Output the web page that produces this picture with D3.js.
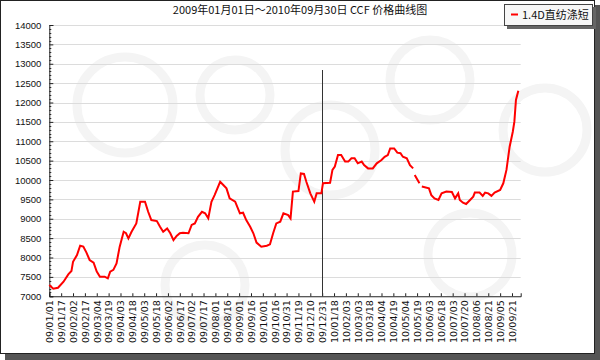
<!DOCTYPE html>
<html>
<head>
<meta charset="utf-8">
<script src="https://cdn.jsdelivr.net/npm/d3@7/dist/d3.min.js"></script>
<style>
  body { margin: 0; background: #fff; }
  svg { display: block; }
</style>
</head>
<body>
<div id="chart"></div>
<script>
// --- Data ---
const title = "2009年01月01日～2010年09月30日 CCF 价格曲线图";
const seriesName = "1.4D直纺涤短";

// tick labels, one every 15 data points
const dateLabels = [
  "09/01/01", "09/01/17", "09/02/02", "09/02/17", "09/03/04", "09/03/19", "09/04/03", "09/04/18",
  "09/05/03", "09/05/18", "09/06/02", "09/06/17", "09/07/02", "09/07/17", "09/08/01", "09/08/16",
  "09/09/01", "09/09/16", "09/10/01", "09/10/16", "09/10/31", "09/11/19", "09/12/10", "09/12/31",
  "10/01/18", "10/02/03", "10/03/03", "10/03/18", "10/04/04", "10/04/19", "10/05/04", "10/05/19",
  "10/06/03", "10/06/18", "10/07/03", "10/07/20", "10/08/06", "10/08/21", "10/09/05", "10/09/21"
];

// point index along the axis
const pointIdx = [
  0, 5, 11, 18, 24, 28, 30, 35, 39, 43, 47, 51, 56, 60, 64, 70, 74, 77, 81, 85,
  89, 94, 97, 100, 104, 110, 115, 121, 125, 129, 136, 140, 144, 149, 153, 157, 161, 165, 169, 176,
  180, 184, 188, 193, 197, 201, 205, 209, 216, 220, 224, 228, 235, 241, 245, 249, 254, 258, 262, 268,
  275, 279, 283, 287, 292, 296, 302, 305, 308, 315, 318, 322, 325, 330, 335, 338, 344, 346, 355, 358,
  361, 365, 369, 374, 378, 382, 386, 390, 395, 398, 403, 409, 414, 420, 424, 428, 431, 436, 440, 444,
  447, 452, 456, 460, 461, 462, 468, 469, 471, 480, 483, 487, 492, 496, 502, 509, 513, 517, 519, 523,
  527, 532, 536, 538, 544, 548, 551, 555, 559, 563, 570, 574, 578, 582, 586, 588, 590, 593
];

// price (yuan/ton); null = no quote
const prices = [
  7290, 7195, 7220, 7375, 7565, 7650, 7890, 8065, 8305, 8280, 8125, 7935, 7865, 7635, 7505, 7505, 7460, 7635, 7680, 7850,
  8280, 8665, 8625, 8495, 8665, 8880, 9440, 9440, 9180, 8965, 8940, 8795, 8665, 8750, 8625, 8450, 8555, 8625, 8640, 8625,
  8840, 8880, 9050, 9180, 9140, 9010, 9440, 9610, 9955, 9870, 9785, 9525, 9440, 9140, 9155, 8965, 8795, 8625, 8385, 8280,
  8305, 8340, 8625, 8880, 8925, 9140, 9095, 9010, 9700, 9715, 10170, 10155, 9955, 9655, 9440, 9655, 9655, 9915, 9930, 10260,
  10345, 10645, 10645, 10475, 10475, 10560, 10560, 10430, 10475, 10385, 10300, 10300, 10430, 10515, 10600, 10645, 10815, 10815, 10705, 10690,
  10600, 10560, 10385, 10300, null, 10130, 9915, null, 9830, 9785, 9610, 9525, 9485, 9655, 9700, 9690, 9525, 9655, 9485, 9415,
  9380, 9485, 9570, 9675, 9675, 9590, 9675, 9655, 9590, 9675, 9745, 9915, 10260, 10860, 11245, 11505, 12065, 12305
];

const yTicks = d3.range(7000, 14001, 500);
const yearMarkIdx = 345;

// --- SVG Setup ---
const width = 600;
const height = 360;

const svg = d3.select("#chart")
  .append("svg")
  .attr("width", width)
  .attr("height", height);

// frame + shadow
svg.append("rect")
  .attr("x", 5).attr("y", 5)
  .attr("width", 595).attr("height", 355)
  .attr("fill", "#555");

svg.append("rect")
  .attr("x", 0.5).attr("y", 0.5)
  .attr("width", 594).attr("height", 353)
  .attr("fill", "#fff")
  .attr("stroke", "#222");

// faint watermark rings (logo background)
const rings = [[125, 105, 48], [235, 95, 35], [330, 150, 45], [430, 80, 40], [545, 130, 42], [205, 285, 40], [470, 255, 42]];
svg.append("g")
  .selectAll("circle")
  .data(rings)
  .enter()
  .append("circle")
  .attr("cx", d => d[0])
  .attr("cy", d => d[1])
  .attr("r", d => d[2])
  .attr("fill", "none")
  .attr("stroke", "#f4f4f4")
  .attr("stroke-width", 9);

// --- Scales ---
const x = d3.scaleLinear().domain([0, 596]).range([49.3, 520.7]);
const y = d3.scaleLinear().domain([7000, 14000]).range([296.25, 25]);

// gridlines
svg.append("g")
  .selectAll("line")
  .data(yTicks.slice(1))
  .enter()
  .append("line")
  .attr("x1", x(0)).attr("x2", x(596))
  .attr("y1", d => Math.round(y(d)) + 0.5)
  .attr("y2", d => Math.round(y(d)) + 0.5)
  .attr("stroke", "#dcdcdc");

// minor y ticks
svg.append("g")
  .selectAll("line")
  .data(d3.range(7000, 14000, 100).filter(v => v % 500 !== 0))
  .enter()
  .append("line")
  .attr("x1", x(0)).attr("x2", x(0) + 2)
  .attr("y1", d => Math.round(y(d)) + 0.5)
  .attr("y2", d => Math.round(y(d)) + 0.5)
  .attr("stroke", "#333");

// --- Axes ---
const yAxis = svg.append("g")
  .attr("transform", `translate(${x(0)},0)`)
  .call(d3.axisLeft(y).tickValues(yTicks).tickSize(-4).tickPadding(8).tickFormat(d3.format("d")));

yAxis.selectAll("text")
  .attr("font-family", "Liberation Sans, Arial, sans-serif")
  .attr("font-size", 9.5)
  .attr("fill", "#111");

const xAxis = svg.append("g")
  .attr("transform", `translate(0,${y(7000)})`)
  .call(d3.axisBottom(x)
    .tickValues(dateLabels.map((d, i) => i * 15))
    .tickSize(-3)
    .tickFormat(d => dateLabels[d / 15]));

xAxis.selectAll("text")
  .attr("font-family", "DejaVu Sans, Verdana, sans-serif")
  .attr("font-size", 9.5)
  .attr("fill", "#111")
  .attr("text-anchor", "end")
  .attr("transform", "rotate(-90)")
  .attr("x", -4)
  .attr("y", 0)
  .attr("dy", "0.35em");

svg.selectAll(".domain, .tick line").attr("stroke", "#222");

// year boundary marker
svg.append("line")
  .attr("x1", Math.round(x(yearMarkIdx)) + 0.5)
  .attr("x2", Math.round(x(yearMarkIdx)) + 0.5)
  .attr("y1", 70)
  .attr("y2", y(7000))
  .attr("stroke", "#333");

// --- Price line ---
const line = d3.line()
  .defined(d => d[1] !== null)
  .x(d => x(d[0]))
  .y(d => y(d[1]));

svg.append("path")
  .datum(pointIdx.map((d, i) => [d, prices[i]]))
  .attr("fill", "none")
  .attr("stroke", "#f00")
  .attr("stroke-width", 2)
  .attr("d", line);

// --- Title ---
svg.append("text")
  .attr("x", 300)
  .attr("y", 14)
  .attr("text-anchor", "middle")
  .attr("font-family", "Noto Sans CJK SC, sans-serif")
  .attr("font-size", 11)
  .attr("fill", "#111")
  .text(title);

// --- Legend ---
const legend = svg.append("g").attr("transform", "translate(504,4)");
legend.append("rect")
  .attr("x", 3).attr("y", 3)
  .attr("width", 89).attr("height", 22)
  .attr("fill", "#666");
legend.append("rect")
  .attr("x", 0.5).attr("y", 0.5)
  .attr("width", 88).attr("height", 21)
  .attr("fill", "#f7f7f7")
  .attr("stroke", "#444");
legend.append("line")
  .attr("x1", 7).attr("x2", 14)
  .attr("y1", 10.5).attr("y2", 10.5)
  .attr("stroke", "#f00")
  .attr("stroke-width", 2);
legend.append("text")
  .attr("x", 18)
  .attr("y", 15)
  .attr("font-family", "Noto Sans CJK SC, sans-serif")
  .attr("font-size", 11)
  .attr("fill", "#111")
  .text(seriesName);
</script>
</body>
</html>
